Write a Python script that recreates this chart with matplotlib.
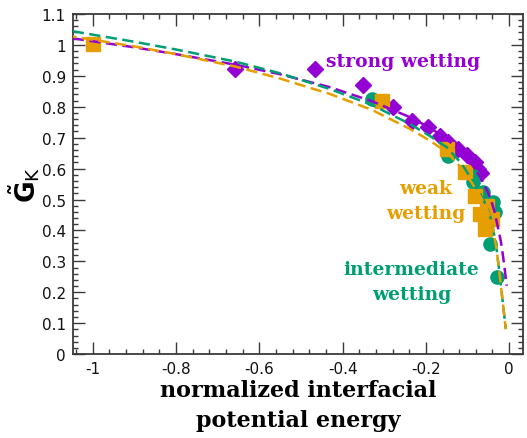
import matplotlib
matplotlib.use("Agg")
import matplotlib.pyplot as plt
from matplotlib.ticker import MultipleLocator, FixedLocator, FixedFormatter

# ---- data ----
strong_x = [-0.658, -0.466, -0.350, -0.280, -0.234, -0.194, -0.166, -0.146, -0.122, -0.102, -0.082, -0.074, -0.068]
strong_y = [0.922, 0.922, 0.870, 0.798, 0.755, 0.736, 0.706, 0.685, 0.663, 0.645, 0.620, 0.600, 0.585]

inter_x = [-0.330, -0.146, -0.086, -0.086, -0.062, -0.038, -0.034, -0.046, -0.030]
inter_y = [0.825, 0.642, 0.577, 0.555, 0.523, 0.491, 0.458, 0.355, 0.248]

weak_x = [-1.000, -0.306, -0.150, -0.106, -0.082, -0.054, -0.070, -0.042, -0.058]
weak_y = [1.003, 0.818, 0.663, 0.588, 0.512, 0.480, 0.453, 0.437, 0.404]

# fitted curves
fit_strong_x = [-1.048, -0.9, -0.8, -0.658, -0.55, -0.43, -0.33, -0.238, -0.19, -0.15, -0.12, -0.1, -0.085, -0.07, -0.057, -0.045, -0.035, -0.027, -0.02, -0.015, -0.01, -0.006]
fit_strong_y = [1.021, 0.992, 0.970, 0.936, 0.905, 0.863, 0.818, 0.766, 0.732, 0.695, 0.660, 0.632, 0.605, 0.575, 0.540, 0.505, 0.460, 0.410, 0.365, 0.320, 0.268, 0.221]

fit_inter_x = [-1.048, -0.9, -0.8, -0.658, -0.55, -0.43, -0.33, -0.238, -0.19, -0.15, -0.118, -0.09, -0.07, -0.054, -0.045, -0.038, -0.03, -0.024, -0.016, -0.008]
fit_inter_y = [1.044, 1.010, 0.985, 0.946, 0.908, 0.857, 0.806, 0.744, 0.705, 0.669, 0.622, 0.566, 0.520, 0.478, 0.443, 0.403, 0.337, 0.272, 0.176, 0.081]

fit_weak_x = [-1.048, -0.9, -0.8, -0.658, -0.55, -0.43, -0.33, -0.238, -0.19, -0.15, -0.118, -0.09, -0.07, -0.054, -0.045, -0.038, -0.03, -0.024, -0.016, -0.008]
fit_weak_y = [1.027, 0.995, 0.970, 0.930, 0.891, 0.841, 0.790, 0.728, 0.690, 0.653, 0.607, 0.555, 0.512, 0.473, 0.440, 0.401, 0.336, 0.271, 0.175, 0.081]

x_ticks = [-1.0, -0.8, -0.6, -0.4, -0.2, 0.0]
x_tick_labels = ["-1", "-0.8", "-0.6", "-0.4", "-0.2", "0"]
y_ticks = [0.0, 0.1, 0.2, 0.3, 0.4, 0.5, 0.6, 0.7, 0.8, 0.9, 1.0, 1.1]
y_tick_labels = ["0", "0.1", "0.2", "0.3", "0.4", "0.5", "0.6", "0.7", "0.8", "0.9", "1", "1.1"]

PURPLE = "#9400D3"
ORANGE = "#E69F00"
GREEN = "#009E73"
AXCOL = "#3a3a3a"

fig = plt.figure(figsize=(5.27, 4.39), dpi=100)
ax = fig.add_axes([0.138, 0.191, 0.855, 0.775])

ax.plot(strong_x, strong_y, linestyle="none", marker="D", ms=8.5, color=PURPLE, mec=PURPLE, zorder=3)
ax.plot(inter_x, inter_y, linestyle="none", marker="o", ms=9.5, color=GREEN, mec=GREEN, zorder=4)
ax.plot(weak_x, weak_y, linestyle="none", marker="s", ms=9.5, color=ORANGE, mec=ORANGE, zorder=5)

dash = (0, (4.5, 2.2))
ax.plot(fit_strong_x, fit_strong_y, color=PURPLE, lw=1.8, linestyle=dash, zorder=6)
ax.plot(fit_inter_x, fit_inter_y, color=GREEN, lw=1.8, linestyle=dash, zorder=6)
ax.plot(fit_weak_x, fit_weak_y, color=ORANGE, lw=1.8, linestyle=(3, (4.5, 2.2)), zorder=6)

ax.set_xlim(-1.048, 0.034)
ax.set_ylim(0, 1.1)

ax.xaxis.set_major_locator(FixedLocator(x_ticks))
ax.xaxis.set_major_formatter(FixedFormatter(x_tick_labels))
ax.yaxis.set_major_locator(FixedLocator(y_ticks))
ax.yaxis.set_major_formatter(FixedFormatter(y_tick_labels))
ax.xaxis.set_minor_locator(MultipleLocator(0.04))
ax.yaxis.set_minor_locator(MultipleLocator(0.02))

ax.tick_params(which="both", direction="in", top=True, right=True, color=AXCOL, width=1.0)
ax.tick_params(which="major", length=8.5, labelsize=11, labelcolor="#111111", pad=5)
ax.tick_params(which="minor", length=3.8)
for s in ax.spines.values():
    s.set_color(AXCOL)
    s.set_linewidth(1.3)

ax.set_xlabel("normalized interfacial\npotential energy", fontsize=16, fontweight="bold",
              family="DejaVu Serif", linespacing=1.45, labelpad=2)
ax.set_ylabel(r"$\tilde{\mathbf{G}}_{\mathrm{K}}$", fontsize=19)
ax.yaxis.set_label_coords(-0.068, 0.5)

tfont = dict(family="DejaVu Serif", fontweight="bold", fontsize=13.5, ha="center", va="center")
ax.text(-0.255, 0.948, "strong wetting", color=PURPLE, **tfont)
ax.text(-0.201, 0.498, "weak\nwetting", color=ORANGE, linespacing=1.5, **tfont)
ax.text(-0.234, 0.236, "intermediate\nwetting", color=GREEN, linespacing=1.5, **tfont)

fig.savefig("out.png", dpi=100)
